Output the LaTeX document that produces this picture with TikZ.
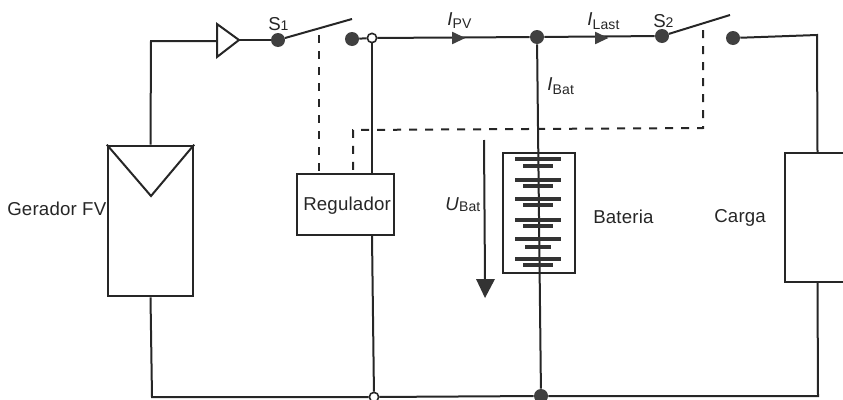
\documentclass[tikz,border=0pt]{standalone}
\usepackage{fontspec}
\setmainfont[LetterSpace=1]{Liberation Sans}
\usetikzlibrary{calc,shapes.geometric}
\newcommand{\lowtext}[2]{\raisebox{-#1pt}{\fontsize{10.5}{11}\selectfont #2}}
\begin{document}
\begin{tikzpicture}[x=0.75pt,y=-0.75pt]
\tikzset{wire/.style = {line width=1.5pt,draw=black!85}}
\tikzset{box/.style = {shape=rectangle,draw=black!85,line width=1.5pt,inner sep=0pt}}
\tikzset{dot/.style = {shape=circle,fill=black!75,inner sep=0pt,minimum size=10.5pt}}
\tikzset{opendot/.style = {shape=circle,draw=black!85,fill=white,line width=1.2pt,inner sep=0pt,minimum size=7pt}}
\tikzset{ctrl/.style = {line width=1.5pt,draw=black!85,dash pattern=on 6pt off 6pt}}
\tikzset{lbl/.style = {font=\fontsize{14}{16}\selectfont,inner sep=0pt,text=black!85}}
\tikzset{cur/.style = {shape=isosceles triangle,fill=black!75,inner sep=0pt,isosceles triangle stretches,minimum height=10pt,minimum width=9.5pt}}
\useasboundingbox (0,0) rectangle (843,400);
%\draw (0,0) rectangle (843,400);
% junctions and contacts
\node[dot] (s1) at (278,40) {};
\node[dot] (k1) at (352,39) {};
\node[opendot] (n1) at (372,38) {};
\node[dot] (n2) at (537,37) {};
\node[dot] (s2) at (662,36) {};
\node[dot] (k2) at (733,38) {};
\node[opendot] (n3) at (374,397) {};
\node[dot] (n4) at (541,396) {};
\coordinate (e1) at (352,19);
\coordinate (e2) at (730,15);
\coordinate (c1) at (319,35);
\coordinate (c2) at (703,30);
\coordinate (c3) at (703,128);
\coordinate (c4) at (353,130);
% boxes
\node[box,minimum width=64pt,minimum height=113pt] (fv) at (150.5,221) {};
\node[box,minimum width=73pt,minimum height=46pt] (reg) at (345.5,204.5) {};
\node[box,minimum width=54pt,minimum height=90pt] (bat) at (539,213) {};
\node[box,minimum width=49pt,minimum height=97pt] (load) at (817.5,217.5) {};
\draw[box] (fv.north west) -- (151,196) -- (fv.north east);
% diode
\coordinate (d1) at (217,24);
\coordinate (d2) at (217,57);
\coordinate (d3) at (239,40);
\draw[wire,fill=white] (d1) -- (d3) -- (d2) -- cycle;
% wires
\draw[wire] (fv.north) -- (151,41) -- (217,41);
\draw[wire] (d3) -- (s1);
\draw[wire] (s1) -- (e1);
\draw[wire] (k1) -- (n1);
\draw[wire] (n1) -- (n2);
\draw[wire] (n2) -- (s2);
\draw[wire] (s2) -- (e2);
\draw[wire] (k2) -- (817,35) -- (load.north);
\draw[wire] (n1) -- (reg.north -| n1);
\draw[wire] (reg.south -| n1) -- (n3);
\draw[wire] (n2) -- (n4);
\draw[wire] (fv.south) -- (152,397) -- (n3);
\draw[wire] (n3) -- (n4);
\draw[wire] (n4) -- (818,396) -- (load.south);
% control lines
\draw[ctrl] (c1) -- (reg.north -| c1);
\draw[ctrl] (c2) -- (c3) -- (c4) -- (reg.north -| c4);
% battery plates
\foreach \y/\w in {159/23,166/15,180/23,186/15,199/23,205/15,220/23,226/15,239/23,247/13,259/23,265/15}
  \fill[black!80] (538-\w,\y-2) rectangle (538+\w,\y+2);
% current arrows
\node[cur] (ipv) at (456,38) {};
\node[cur] (ilast) at (599,38) {};
\coordinate (u1) at (484,140);
\coordinate (u2) at (485,280);
\draw[wire] (u1) -- (u2);
\fill[black!80] (476,279) -- (495,279) -- (485,298) -- cycle;
% labels
\node[lbl,anchor=west] (tfv) at (7,209) {Gerador FV};
\node[lbl,anchor=west] (treg) at (303,206) {Regulador};
\node[lbl,anchor=west] (tbat) at (593,217) {Bateria};
\node[lbl,anchor=west] (tload) at (714,218) {Carga};
\node[lbl,anchor=base west] (ts1) at (268,30) {S\lowtext{0}{1}};
\node[lbl,anchor=base west] (ts2) at (653,27) {S\lowtext{0}{2}};
\node[lbl,anchor=base west] (tipv) at (447,25) {\textit{I}\lowtext{2.25}{PV}};
\node[lbl,anchor=base west] (tilast) at (587,25) {\textit{I}\lowtext{3}{Last}};
\node[lbl,anchor=base west] (tibat) at (547,90) {\textit{I}\lowtext{3}{Bat}};
\node[lbl,anchor=base west] (tubat) at (445,210) {\textit{U}\lowtext{0.75}{Bat}};
\end{tikzpicture}
\end{document}
